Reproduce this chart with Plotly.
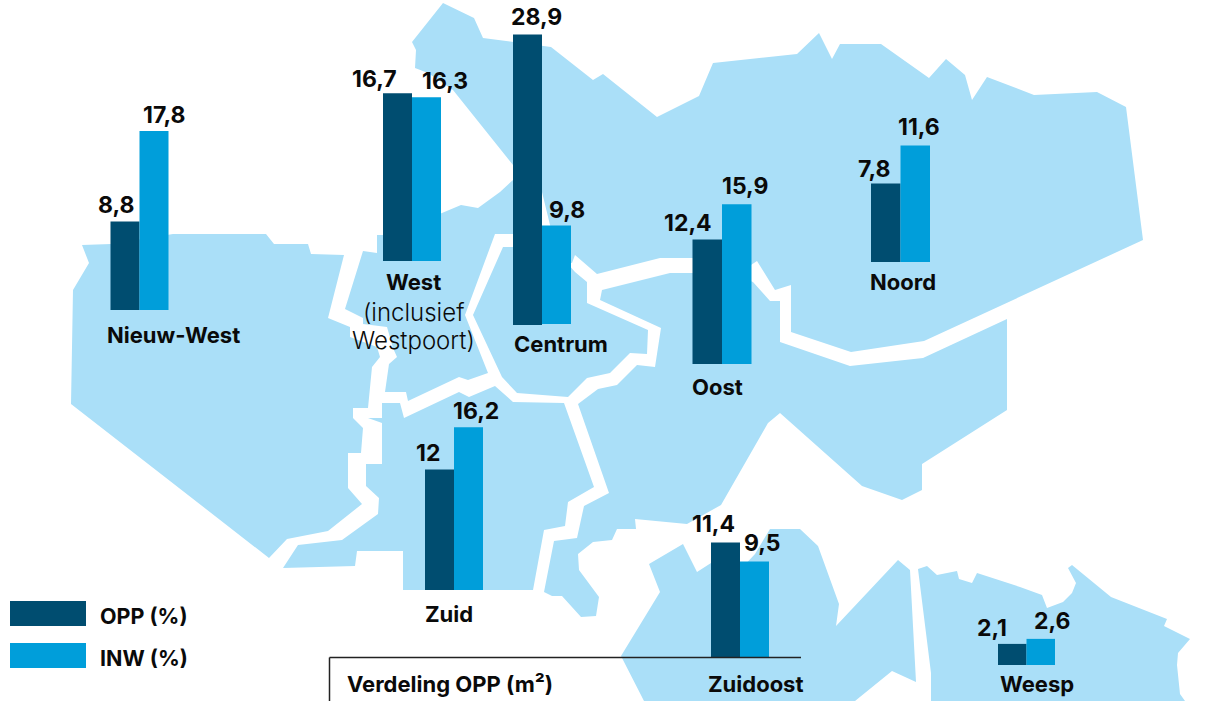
import plotly.graph_objects as go

# ---------- data ----------
districts = ["Nieuw-West", "West", "Centrum", "Oost", "Noord", "Zuid", "Zuidoost", "Weesp"]
opp_values = [8.8, 16.7, 28.9, 12.4, 7.8, 12.0, 11.4, 2.1]
inw_values = [17.8, 16.3, 9.8, 15.9, 11.6, 16.2, 9.5, 2.6]
series_names = ["OPP (%)", "INW (%)"]
box_title = "Verdeling OPP (m²)"

# ---------- styles ----------
MAP_BLUE = "#AADFF8"
DARK = "#004D70"
LIGHT = "#009EDA"
INK = "#0A0A0A"
FONT = "Inter"
W, H = 1213, 701
PX_PER_UNIT = 10.05

# ---------- placement on the map (pixel frame) ----------
bar_left = [110.5, 383, 513, 692.5, 871, 425, 711, 998]
bar_width = [29, 29, 29, 29.5, 29.5, 29, 29, 28.5]
baseline_opp_px = [310, 261, 325, 364, 262, 590, 657, 665]
baseline_inw_px = [310, 261, 324, 364, 262, 590, 657, 665]
opp_label_pos = [(116, 205), (374, 79), (536, 17), (688, 223), (874, 169), (428, 453), (713, 524), (992, 628)]
inw_label_pos = [(164, 115), (445, 81), (567, 210), (745, 186), (919, 127), (476, 411), (762, 543), (1052, 621)]
name_pos = [(173, 335), (413, 282), (561, 344), (717, 387), (903, 282), (449, 614), (756, 684), (1037, 684)]

regions = {
    "Nieuw-West": [(82,245),(111,244),(173,234),(266,234),(274,244),(308,244),(311,254),(344,255),(328,318),(350,327),
                   (350,337),(377,347),(380,357),(372,367),(368,408),(353,408),(353,418),(363,428),(361,453),(348,453),
                   (348,488),(362,504),(328,531),(287,539),(269,558),(71,404),(73,290),(89,263)],
    "West": [(363,251),(377,253),(377,235),(383,235),(442,213),(461,205),(478,208),(500,192),(513,180),(525,234),(495,234),
             (465,315),(488,373),(468,380),(459,377),(408,401),(406,392),(385,392),(389,364),(397,357),(393,348),(387,327),
             (363,324),(363,318),(345,309)],
    "Centrum": [(503,247),(530,247),(560,255),(575,272),(587,282),(587,303),(648,330),(647,354),(630,353),(610,373),(587,378),
                (568,397),(517,393),(502,377),(473,315)],
    "Noord": [(412,42),(416,50),(415,68),(428,73),(453,90),(513,165),(542,192),(550,225),(560,260),(572,263),(575,255),
              (597,274),(660,258),(720,258),(751,265),(757,261),(775,290),(791,285),(791,332),(851,352),(924,341),(1143,240),
              (1126,107),(1097,92),(1034,95),(987,77),(972,100),(965,75),(946,59),(929,78),(881,44),(840,44),(832,59),(819,33),
              (797,54),(713,63),(699,96),(657,117),(603,74),(593,80),(551,47),(483,38),(474,18),(443,3)],
    "Oost": [(600,300),(602,290),(670,273),(730,273),(753,282),(770,301),(780,301),(780,342),(850,366),(923,358),(1007,319),
             (1007,410),(922,464),(922,490),(902,500),(862,486),(780,413),(768,423),(721,505),(687,524),(635,519),(636,529),
             (617,529),(612,540),(593,542),(578,554),(579,570),(599,597),(596,616),(581,617),(562,596),(552,596),(544,592),
             (554,541),(577,538),(584,506),(609,493),(578,404),(598,389),(617,385),(637,365),(655,367),(661,328)],
    "Zuid": [(382,403),(400,403),(404,418),(459,392),(469,397),(495,386),(513,402),(564,403),(594,487),(568,502),(565,526),
             (544,530),(533,590),(403,590),(403,551),(357,551),(355,566),(283,568),(298,545),(342,540),(378,514),(379,498),
             (366,486),(366,464),(382,464),(382,423),(368,418),(382,418)],
    "Zuidoost": [(649,564),(683,544),(697,572),(711,563),(740,570),(755,554),(770,529),(800,529),(818,546),(839,604),(836,626),
                 (898,560),(910,570),(916,682),(892,671),(855,701),(644,701),(621,656),(660,592)],
    "Weesp": [(918,569),(927,566),(937,575),(957,571),(959,579),(972,583),(977,573),(1020,587),(1042,595),(1047,608),(1063,602),
              (1072,593),(1076,583),(1068,568),(1072,565),(1111,597),(1167,619),(1164,626),(1190,639),(1178,653),(1177,665),
              (1180,694),(1185,701),(931,701),(931,673)],
}

fig = go.Figure()

# map background
for name, pts in regions.items():
    fig.add_trace(go.Scatter(
        x=[p[0] for p in pts] + [pts[0][0]],
        y=[p[1] for p in pts] + [pts[0][1]],
        mode="lines", fill="toself", fillcolor=MAP_BLUE,
        line=dict(width=0, color=MAP_BLUE), hoverinfo="skip", name=name, showlegend=False,
        xaxis="x", yaxis="y",
    ))

# bars: value axis with 1 unit = PX_PER_UNIT pixels, each district on its own baseline
fig.add_trace(go.Bar(
    x=[l + w / 2 for l, w in zip(bar_left, bar_width)], y=opp_values,
    base=[(H - b) / PX_PER_UNIT for b in baseline_opp_px], width=bar_width,
    marker=dict(color=DARK, line=dict(width=0)), name=series_names[0],
    customdata=districts, xaxis="x", yaxis="y2",
))
fig.add_trace(go.Bar(
    x=[l + w * 1.5 for l, w in zip(bar_left, bar_width)], y=inw_values,
    base=[(H - b) / PX_PER_UNIT for b in baseline_inw_px], width=bar_width,
    marker=dict(color=LIGHT, line=dict(width=0)), name=series_names[1],
    customdata=districts, xaxis="x", yaxis="y2",
))


def fmt(v):
    return f"{v:g}".replace(".", ",")


annotations = []


def label(x, y, text, size=22, weight=700, anchor="center"):
    annotations.append(dict(
        x=x, y=y, xref="x", yref="y", text=text, showarrow=False,
        xanchor=anchor, yanchor="middle", align=anchor,
        font=dict(family=FONT, size=size, color=INK, weight=weight),
    ))


for vals, poss in ((opp_values, opp_label_pos), (inw_values, inw_label_pos)):
    for v, (x, y) in zip(vals, poss):
        label(x, y, fmt(v), size=23)

for n, (x, y) in zip(districts, name_pos):
    label(x, y, n, size=22)
label(413, 312, "(inclusief", size=24, weight=300)
label(413, 340, "Westpoort)", size=24, weight=300)

# legend
legend_y = [(601, 626), (643, 668)]
shapes = []
for (y0, y1), col, nm in zip(legend_y, (DARK, LIGHT), series_names):
    shapes.append(dict(type="rect", xref="x", yref="y", x0=10, x1=86, y0=y0, y1=y1,
                       fillcolor=col, line=dict(width=0)))
    label(98, (y0 + y1) / 2 + 2, nm, size=21.5, anchor="left")

# box corner
shapes.append(dict(type="line", xref="x", yref="y", x0=329.5, x1=801, y0=657.5, y1=657.5,
                   line=dict(color="#222222", width=1.5), layer="above"))
shapes.append(dict(type="line", xref="x", yref="y", x0=329.5, x1=329.5, y0=657.5, y1=701,
                   line=dict(color="#222222", width=1.5), layer="above"))
label(345, 684, box_title, size=22, anchor="left")

axis_off = dict(visible=False, showgrid=False, zeroline=False, fixedrange=True)
fig.update_layout(
    width=W, height=H, margin=dict(l=0, r=0, t=0, b=0), autosize=False,
    paper_bgcolor="white", plot_bgcolor="white", showlegend=False, barmode="overlay",
    xaxis=dict(range=[0, W], domain=[0, 1], **axis_off),
    yaxis=dict(range=[H, 0], domain=[0, 1], **axis_off),
    yaxis2=dict(range=[0, H / PX_PER_UNIT], overlaying="y", anchor="x", **axis_off),
    annotations=annotations, shapes=shapes,
)

fig.write_html("out.html", config={"displayModeBar": False},
               post_script="document.body.style.margin='0';document.body.style.overflow='hidden';")
